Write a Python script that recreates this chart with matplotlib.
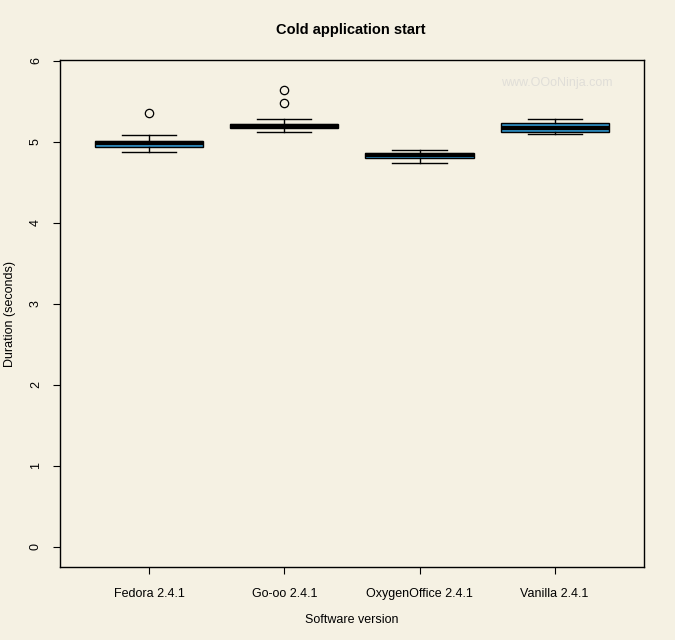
import matplotlib
matplotlib.use('Agg')
import matplotlib.pyplot as plt

plt.rcParams['font.family'] = ['Liberation Sans', 'DejaVu Sans']

# Box statistics (seconds)
versions = ['Fedora 2.4.1', 'Go-oo 2.4.1', 'OxygenOffice 2.4.1', 'Vanilla 2.4.1']
whisker_low = [4.875, 5.12, 4.745, 5.10]
q1 = [4.94, 5.17, 4.796, 5.117]
medians = [4.986, 5.20, 4.833, 5.17]
q3 = [5.006, 5.22, 4.858, 5.232]
whisker_high = [5.084, 5.28, 4.90, 5.28]
outliers = [[5.355], [5.486, 5.64], [], []]
y_ticks = [0, 1, 2, 3, 4, 5, 6]

bg = '#F5F1E3'
box_blue = '#2E8FC4'

stats = []
for i, name in enumerate(versions):
    stats.append({
        'label': name,
        'whislo': whisker_low[i],
        'q1': q1[i],
        'med': medians[i],
        'q3': q3[i],
        'whishi': whisker_high[i],
        'fliers': outliers[i],
    })

fig = plt.figure(figsize=(6.75, 6.4), dpi=100, facecolor=bg)
ax = fig.add_axes([0.0889, 0.114, 0.865, 0.792], facecolor=bg)

ax.bxp(stats, positions=[1, 2, 3, 4], widths=0.8, patch_artist=True,
       boxprops=dict(facecolor=box_blue, edgecolor='black', linewidth=1.0),
       medianprops=dict(color='black', linewidth=3),
       whiskerprops=dict(color='black', linewidth=1.0, linestyle='-'),
       capprops=dict(color='black', linewidth=1.0),
       capwidths=0.4,
       flierprops=dict(marker='o', markerfacecolor='none', markeredgecolor='black',
                       markersize=6, markeredgewidth=0.9))

ax.set_xlim(0.34, 4.66)
ax.set_ylim(-0.25, 6.01)
ax.set_yticks(y_ticks)
ax.set_yticklabels([str(t) for t in y_ticks], rotation=90, va='center', fontsize=9)
ax.tick_params(axis='x', labelsize=9, pad=10, length=5)
ax.tick_params(axis='y', pad=8, length=5)

for side in ['top', 'right', 'left', 'bottom']:
    ax.spines[side].set_color('black')
    ax.spines[side].set_linewidth(1.0)

ax.set_xlabel('Software version', fontsize=9, labelpad=10)
ax.set_ylabel('Duration (seconds)', fontsize=9, labelpad=10)
fig.text(0.52, 0.953, 'Cold application start', ha='center', va='center',
         fontsize=10.5, fontweight='bold')

ax.text(0.85, 0.955, 'www.OOoNinja.com', transform=ax.transAxes, ha='center',
        va='center', fontsize=9, color='#E0DED8')

fig.savefig('out.png', dpi=100, facecolor=bg)
